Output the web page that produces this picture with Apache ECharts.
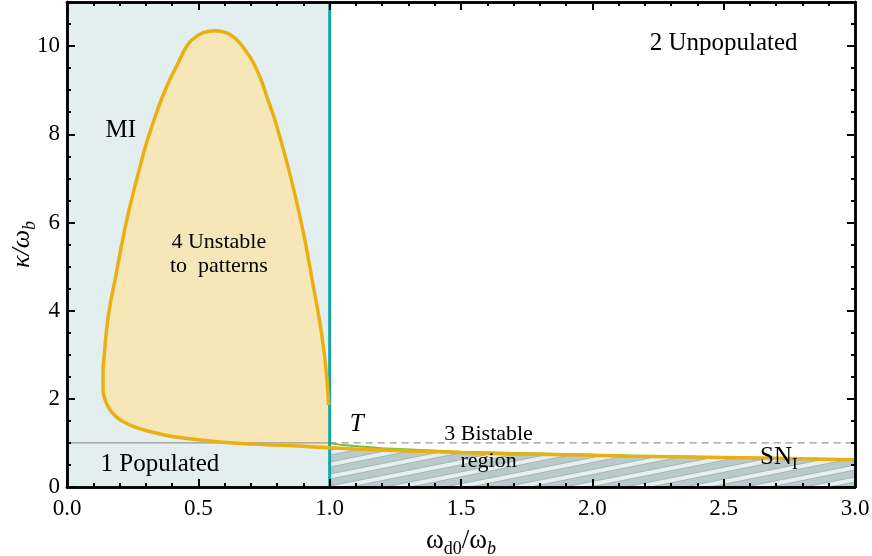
<!DOCTYPE html>
<html>
<head>
<meta charset="utf-8">
<script src="https://cdn.jsdelivr.net/npm/echarts@6/dist/echarts.min.js"></script>
<style>
  html, body { margin: 0; padding: 0; background: #fff; }
  #chart { width: 872px; height: 556px; }
</style>
</head>
<body>
<div id="chart"></div>
<script>
// 相图：κ/ω_b 对 ω_d0/ω_b
const xRange = [0, 3];
const yRange = [0, 11];
const populatedSpan = [0, 1]; // 区域1（浅蓝）的 x 范围
const thresholdY = 1; // 虚线 κ/ω_b = 1

// MI 曲线上半部分（从左下起，经过峰值，到 x≈1 处结束）
const lobeUpper = [
  [0.137, 2.43], [0.138, 2.73], [0.145, 3.20], [0.152, 3.64], [0.166, 4.20],
  [0.183, 4.70], [0.205, 5.40], [0.228, 6.07], [0.250, 6.62], [0.275, 7.20],
  [0.300, 7.75], [0.330, 8.30], [0.360, 8.80], [0.390, 9.22], [0.420, 9.58],
  [0.449, 9.93], [0.475, 10.14], [0.517, 10.30], [0.563, 10.35], [0.608, 10.30],
  [0.640, 10.18], [0.670, 9.98], [0.707, 9.65], [0.740, 9.22], [0.764, 8.80],
  [0.790, 8.35], [0.817, 7.80], [0.845, 7.18], [0.875, 6.45], [0.905, 5.62],
  [0.935, 4.65], [0.955, 4.00], [0.970, 3.45], [0.982, 2.90], [0.990, 2.40],
  [0.996, 1.86]
];
// 下分支（一直延伸到 x=3）
const lowerBranch = [
  [0.137, 2.43], [0.138, 2.14], [0.145, 1.98], [0.155, 1.84], [0.170, 1.70],
  [0.190, 1.58], [0.215, 1.48], [0.250, 1.38], [0.300, 1.28], [0.380, 1.17],
  [0.500, 1.07], [0.630, 1.00], [0.760, 0.96], [0.880, 0.93], [1.000, 0.89],
  [1.200, 0.84], [1.400, 0.80], [1.700, 0.75], [2.000, 0.72], [2.140, 0.70],
  [2.500, 0.67], [2.800, 0.64], [3.000, 0.62]
];
// 绿色细线 (T 到 SN_I)
const greenBranch = [
  [1.00, 1.00], [1.05, 0.95], [1.20, 0.88], [1.50, 0.80], [2.00, 0.73],
  [2.50, 0.67], [3.00, 0.63]
];
const xTicks = [0, 0.5, 1, 1.5, 2, 2.5, 3];
const yTicks = [0, 2, 4, 6, 8, 10];

// 文字标注
const regionLabels = [
  { pos: [2.50, 10.07], text: '2 Unpopulated', size: 25 },
  { pos: [0.205, 8.09], text: 'MI', size: 25 },
  { pos: [0.578, 5.27], text: '4 Unstable\nto  patterns', size: 22 },
  { pos: [0.354, 0.52], text: '1 Populated', size: 25 },
  { pos: [1.103, 1.43], text: '{it|T}', size: 25 },
  { pos: [1.605, 1.20], text: '3 Bistable', size: 22 },
  { pos: [1.605, 0.59], text: 'region', size: 22 },
  { pos: [2.71, 0.66], text: '{n|SN}{s|I}', size: 25 }
];

const FONT = '"Liberation Serif", "DejaVu Serif", serif';
const yellow = '#e8b012';

// 斜线填充（区域3）
function makeHatch() {
  const c = document.createElement('canvas');
  c.width = 60; c.height = 12;
  const g = c.getContext('2d');
  g.fillStyle = '#b8cbca';
  g.fillRect(0, 0, 60, 12);
  [-12, 0, 12].forEach((off) => {
    g.beginPath();
    g.moveTo(0, 12 + off); g.lineTo(60, off); g.lineTo(60, off + 5); g.lineTo(0, 17 + off);
    g.closePath();
    g.fillStyle = '#e6efef';
    g.fill();
    g.strokeStyle = '#9fabab';
    g.lineWidth = 0.8;
    g.beginPath(); g.moveTo(0, 12 + off); g.lineTo(60, off); g.stroke();
    g.beginPath(); g.moveTo(0, 17 + off); g.lineTo(60, off + 5); g.stroke();
  });
  return c;
}

const lobeOutline = lobeUpper.concat(lowerBranch.filter((p) => p[0] <= 1).reverse());
const hatchData = lowerBranch.filter((p) => p[0] >= 1);

const chart = echarts.init(document.getElementById('chart'), null, { renderer: 'canvas' });

const tickAxisBase = (pos, interval, len) => ({
  type: 'value',
  position: pos,
  min: pos === 'bottom' || pos === 'top' ? xRange[0] : yRange[0],
  max: pos === 'bottom' || pos === 'top' ? xRange[1] : yRange[1],
  interval: interval,
  z: 10,
  axisLine: { show: true, onZero: false, lineStyle: { color: '#000', width: 2.5 } },
  axisTick: { show: true, inside: true, length: len, lineStyle: { color: '#000', width: 2 } },
  axisLabel: { show: false },
  splitLine: { show: false }
});

const option = {
  backgroundColor: '#fff',
  animation: false,
  grid: { left: 67, right: 17, top: 2, bottom: 69, containLabel: false, outerBoundsMode: 'none' },
  xAxis: [
    Object.assign(tickAxisBase('bottom', 0.5, 8), {
      axisLabel: {
        show: true, margin: 10, color: '#000', fontFamily: FONT, fontSize: 23,
        formatter: (v) => (xTicks.includes(v) ? v.toFixed(1) : '')
      },
      name: '{w|ω}{s|d0}{w|/ω}{b|b}',
      nameLocation: 'middle',
      nameGap: 37,
      nameMoveOverlap: false,
      nameTextStyle: {
        rich: {
          w: { fontFamily: FONT, fontSize: 27, lineHeight: 34, verticalAlign: 'middle', color: '#000' },
          s: { fontFamily: FONT, fontSize: 18, verticalAlign: 'bottom', color: '#000' },
          b: { fontFamily: FONT, fontSize: 18, fontStyle: 'italic', verticalAlign: 'bottom', color: '#000' }
        }
      }
    }),
    tickAxisBase('bottom', 0.1, 4),
    tickAxisBase('top', 0.5, 8),
    tickAxisBase('top', 0.1, 4)
  ],
  yAxis: [
    Object.assign(tickAxisBase('left', 2, 8), {
      axisLabel: {
        show: true, margin: 7, color: '#000', fontFamily: FONT, fontSize: 23,
        showMaxLabel: false,
        formatter: (v) => (yTicks.includes(v) ? String(v) : '')
      },
      name: '{k|κ/ω}{b|b}',
      nameLocation: 'middle',
      nameRotate: 90,
      nameGap: 28,
      nameMoveOverlap: false,
      nameTextStyle: {
        rich: {
          k: { fontFamily: FONT, fontSize: 26, fontStyle: 'italic', lineHeight: 34, verticalAlign: 'middle', color: '#000' },
          b: { fontFamily: FONT, fontSize: 18, fontStyle: 'italic', verticalAlign: 'bottom', color: '#000' }
        }
      }
    }),
    tickAxisBase('left', 0.5, 4),
    tickAxisBase('right', 2, 8),
    tickAxisBase('right', 0.5, 4)
  ],
  series: [
    {
      // 区域1 背景
      type: 'line',
      data: [[populatedSpan[0], yRange[1]], [populatedSpan[1], yRange[1]]],
      showSymbol: false,
      lineStyle: { width: 0 },
      areaStyle: { color: '#e3efef', opacity: 1 },
      z: 1,
      silent: true
    },
    {
      // 区域3 斜线
      type: 'line',
      data: hatchData,
      showSymbol: false,
      lineStyle: { width: 0 },
      areaStyle: { color: { image: makeHatch(), repeat: 'repeat' }, opacity: 1 },
      z: 1,
      silent: true
    },
    {
      // 区域4 填充
      type: 'custom',
      data: [0],
      renderItem: (params, api) => ({
        type: 'polygon',
        shape: { points: lobeOutline.map((p) => api.coord(p)), smooth: 0 },
        style: { fill: '#f7e6b7', stroke: 'none' }
      }),
      z: 2,
      silent: true
    },
    {
      type: 'line',
      data: [[xRange[0], thresholdY], [populatedSpan[1], thresholdY]],
      showSymbol: false,
      lineStyle: { color: '#9a9a9a', width: 1.2 },
      z: 3
    },
    {
      type: 'line',
      data: [[populatedSpan[1], thresholdY], [xRange[1], thresholdY]],
      showSymbol: false,
      lineStyle: { color: '#9a9a9a', width: 1.2, type: [7, 5] },
      z: 3
    },
    {
      type: 'line',
      data: greenBranch,
      showSymbol: false,
      lineStyle: { color: '#7cbf2e', width: 2 },
      z: 4
    },
    {
      type: 'line',
      data: [[populatedSpan[1], yRange[0]], [populatedSpan[1], yRange[1]]],
      showSymbol: false,
      lineStyle: { color: '#17a6a8', width: 3 },
      z: 5
    },
    {
      type: 'line',
      data: lobeUpper,
      showSymbol: false,
      smooth: 0.3,
      lineStyle: { color: yellow, width: 3.5 },
      z: 6
    },
    {
      type: 'line',
      data: lowerBranch,
      showSymbol: false,
      smooth: 0.3,
      lineStyle: { color: yellow, width: 3.5 },
      z: 6
    },
    {
      type: 'scatter',
      symbolSize: 0,
      silent: true,
      z: 8,
      itemStyle: { opacity: 1 },
      data: regionLabels.map((l) => ({
        value: l.pos,
        label: {
          show: true,
          position: 'inside',
          formatter: l.text,
          fontFamily: FONT,
          fontSize: l.size,
          lineHeight: l.size + 2,
          color: '#000',
          opacity: 1,
          textBorderWidth: 0,
          align: 'center',
          rich: {
            it: { fontFamily: FONT, fontSize: 25, fontStyle: 'italic', color: '#000', textBorderWidth: 0 },
            n: { fontFamily: FONT, fontSize: 25, lineHeight: 30, verticalAlign: 'middle', color: '#000', textBorderWidth: 0 },
            s: { fontFamily: FONT, fontSize: 17, verticalAlign: 'bottom', color: '#000', textBorderWidth: 0 }
          }
        }
      }))
    }
  ]
};

chart.setOption(option);
</script>
</body>
</html>
